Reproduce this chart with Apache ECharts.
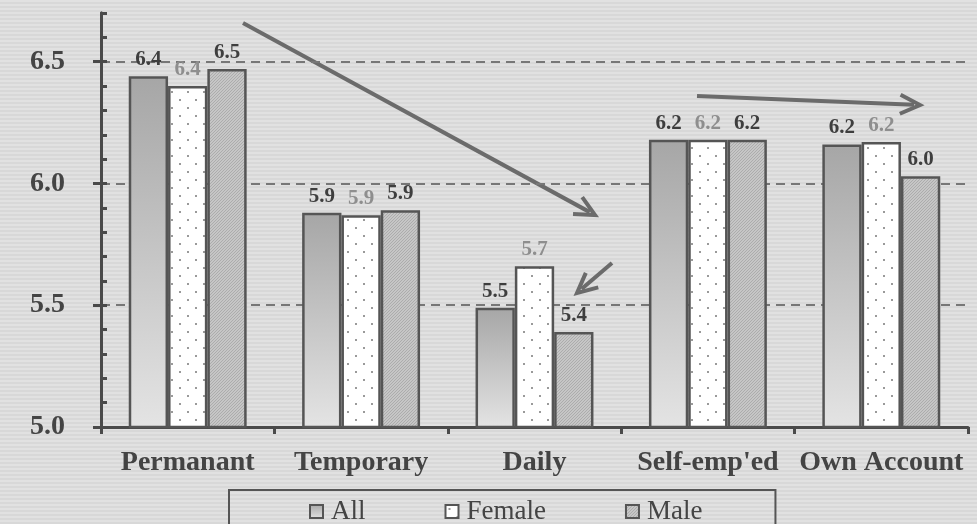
<!DOCTYPE html>
<html>
<head>
<meta charset="utf-8">
<script src="https://cdn.jsdelivr.net/npm/echarts@6/dist/echarts.min.js"></script>
<style>
  html, body { margin: 0; padding: 0; }
  body {
    width: 977px; height: 524px; overflow: hidden;
    background: repeating-linear-gradient(to bottom, #e1e1e1 0px, #e1e1e1 2px, #d8d8d8 2px, #d8d8d8 4px);
  }
  #chart { width: 977px; height: 524px; }
</style>
</head>
<body>
<div id="chart"></div>
<script>
// categories and values
const categories = ["Permanant", "Temporary", "Daily", "Self-emp'ed", "Own Account"];
const allValues = [6.44, 5.88, 5.49, 6.18, 6.16];
const femaleValues = [6.40, 5.87, 5.66, 6.18, 6.17];
const maleValues = [6.47, 5.89, 5.39, 6.18, 6.03];

const chart = echarts.init(document.getElementById("chart"));

// small canvas patterns for the bar fills
function makePattern(size, draw) {
  const c = document.createElement("canvas");
  c.width = size; c.height = size;
  draw(c.getContext("2d"));
  return { image: c, repeat: "repeat" };
}

const femaleFill = makePattern(16, (ctx) => {
  ctx.fillStyle = "#ffffff";
  ctx.fillRect(0, 0, 16, 16);
  ctx.fillStyle = "#9a9a9a";
  ctx.fillRect(3, 3, 2, 2);
  ctx.fillRect(11, 11, 2, 2);
});

const maleFill = makePattern(3, (ctx) => {
  ctx.fillStyle = "#c6c6c6";
  ctx.fillRect(0, 0, 3, 3);
  ctx.fillStyle = "#acacac";
  ctx.fillRect(0, 0, 1, 1);
  ctx.fillRect(2, 1, 1, 1);
  ctx.fillRect(1, 2, 1, 1);
});

const allFill = new echarts.graphic.LinearGradient(0, 0, 0, 1, [
  { offset: 0, color: "#a6a6a6" },
  { offset: 1, color: "#e4e4e4" }
]);

const serif = "'Liberation Serif', 'DejaVu Serif', serif";

const labelStyle = (color) => ({
  show: true,
  position: "top",
  distance: 6,
  color: color,
  fontFamily: serif,
  fontWeight: "bold",
  fontSize: 21,
  formatter: (p) => p.value.toFixed(1)
});

const barStyle = (fill) => ({
  color: fill,
  borderColor: "#555555",
  borderWidth: 2.5
});

// decorative arrows
function arrow(x1, y1, x2, y2) {
  const ang = Math.atan2(y2 - y1, x2 - x1);
  const len = 22, spread = 0.45;
  const lineEndX = x2 - Math.cos(ang) * 6;
  const lineEndY = y2 - Math.sin(ang) * 6;
  return {
    type: "group",
    children: [
      {
        type: "line",
        shape: { x1: x1, y1: y1, x2: lineEndX, y2: lineEndY },
        style: { stroke: "#6b6b6b", lineWidth: 4 }
      },
      {
        type: "polyline",
        shape: {
          points: [
            [x2 - len * Math.cos(ang - spread), y2 - len * Math.sin(ang - spread)],
            [x2, y2],
            [x2 - len * Math.cos(ang + spread), y2 - len * Math.sin(ang + spread)]
          ]
        },
        style: { stroke: "#6b6b6b", lineWidth: 4, fill: null }
      }
    ]
  };
}

const option = {
  backgroundColor: "transparent",
  animation: false,
  grid: { left: 101, right: 9, top: 13, bottom: 97 },
  legend: {
    left: 229,
    top: 490,
    padding: [8, 73, 30, 80],
    borderColor: "#555555",
    borderWidth: 2,
    itemGap: 79,
    itemWidth: 13,
    itemHeight: 13,
    icon: "rect",
    textStyle: { fontFamily: serif, fontSize: 27, color: "#444444", padding: [0, 0, 0, 3] },
    data: ["All", "Female", "Male"]
  },
  xAxis: {
    type: "category",
    data: categories,
    axisLine: { lineStyle: { color: "#4a4a4a", width: 3 } },
    axisTick: { show: true, interval: 0, length: 7, lineStyle: { color: "#4a4a4a", width: 3 } },
    axisLabel: {
      interval: 0,
      margin: 22,
      color: "#444444",
      fontFamily: serif,
      fontWeight: "bold",
      fontSize: 28
    }
  },
  yAxis: [
    {
      type: "value",
      min: 5,
      max: 6.7,
      interval: 0.5,
      axisLine: { show: true, lineStyle: { color: "#4a4a4a", width: 3 } },
      axisTick: { show: true, length: 8, lineStyle: { color: "#4a4a4a", width: 3 } },
      axisLabel: {
        margin: 36,
        showMaxLabel: false,
        color: "#444444",
        fontFamily: serif,
        fontWeight: "bold",
        fontSize: 28,
        formatter: (v) => v.toFixed(1)
      },
      splitLine: {
        show: true,
        showMaxLine: false,
        lineStyle: { color: "#777777", type: [9, 6], width: 2 }
      }
    },
    {
      type: "value",
      position: "left",
      min: 5,
      max: 6.7,
      interval: 0.1,
      axisLine: { show: true, lineStyle: { color: "#4a4a4a", width: 3 } },
      axisTick: { show: true, inside: true, length: 6, lineStyle: { color: "#4a4a4a", width: 3 } },
      axisLabel: { show: false },
      splitLine: { show: false }
    }
  ],
  series: [
    {
      name: "All",
      type: "bar",
      data: allValues,
      barGap: "0%",
      barCategoryGap: "32%",
      itemStyle: barStyle(allFill),
      label: labelStyle("#3e3e3e")
    },
    {
      name: "Female",
      type: "bar",
      data: femaleValues,
      itemStyle: barStyle(femaleFill),
      label: labelStyle("#8e8e8e")
    },
    {
      name: "Male",
      type: "bar",
      data: maleValues,
      itemStyle: barStyle(maleFill),
      label: labelStyle("#3e3e3e")
    }
  ],
  graphic: [
    arrow(243, 23, 595, 215),
    arrow(612, 263, 577, 293),
    arrow(697, 96, 920, 105)
  ]
};

chart.setOption(option);
</script>
</body>
</html>
